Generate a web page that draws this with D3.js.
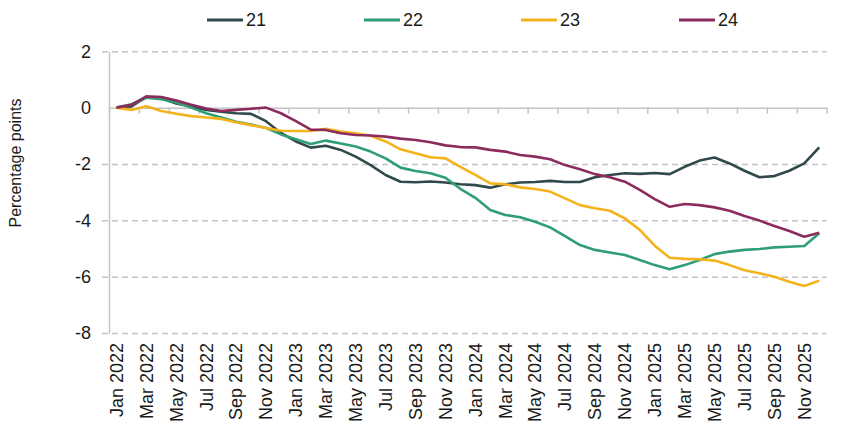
<!DOCTYPE html>
<html>
<head>
<meta charset="utf-8">
<script src="https://cdn.jsdelivr.net/npm/d3@7"></script>
<style>
  body { margin: 0; background: #fff; }
  text { font-family: "Liberation Sans", Arial, sans-serif; fill: #1a1a1a; }
</style>
</head>
<body>
<svg width="848" height="444"></svg>
<script>
// Months, Jan 2022 - Dec 2025
const monthNames = ["Jan", "Feb", "Mar", "Apr", "May", "Jun", "Jul", "Aug", "Sep", "Oct", "Nov", "Dec"];
const years = [2022, 2023, 2024, 2025];
const months = years.flatMap(y => monthNames.map(m => `${m} ${y}`));

const seriesNames = ["21", "22", "23", "24"];
const seriesColors = ["#31484d", "#2f9e74", "#f4b31c", "#8c2c5e"];

const s21 = [0, 0.04, 0.38, 0.33, 0.15, 0.04, -0.08, -0.14, -0.2, -0.22, -0.48, -0.9,
  -1.2, -1.42, -1.35, -1.5, -1.74, -2.04, -2.39, -2.63, -2.65, -2.62, -2.66, -2.72,
  -2.75, -2.84, -2.72, -2.66, -2.64, -2.6, -2.64, -2.64, -2.47, -2.39, -2.33, -2.35,
  -2.32, -2.36, -2.1, -1.88, -1.77, -1.98, -2.24, -2.47, -2.43, -2.24, -1.98, -1.41];
const s22 = [0, 0.12, 0.35, 0.3, 0.18, 0.0, -0.2, -0.35, -0.5, -0.6, -0.72, -0.95,
  -1.12, -1.29, -1.17, -1.27, -1.38, -1.56, -1.8, -2.13, -2.25, -2.33, -2.49, -2.88,
  -3.2, -3.63, -3.81, -3.89, -4.05, -4.25, -4.56, -4.88, -5.05, -5.14, -5.23, -5.41,
  -5.59, -5.74, -5.59, -5.41, -5.2, -5.11, -5.05, -5.02, -4.96, -4.94, -4.91, -4.46];
const s23 = [0, -0.08, 0.05, -0.12, -0.22, -0.3, -0.35, -0.4, -0.52, -0.62, -0.72, -0.82,
  -0.83, -0.83, -0.75, -0.85, -0.91, -1.0, -1.2, -1.48, -1.62, -1.76, -1.8, -2.1,
  -2.39, -2.69, -2.72, -2.83, -2.89, -2.98, -3.22, -3.46, -3.57, -3.66, -3.93, -4.34,
  -4.9, -5.33, -5.37, -5.38, -5.43, -5.59, -5.77, -5.88, -6.0, -6.18, -6.33, -6.14];
const s24 = [0, 0.1, 0.4, 0.38, 0.25, 0.1, -0.03, -0.12, -0.08, -0.04, 0.0, -0.2,
  -0.48, -0.78, -0.79, -0.91, -0.97, -0.99, -1.03, -1.1, -1.15, -1.23, -1.34, -1.4,
  -1.41, -1.5, -1.56, -1.68, -1.74, -1.83, -2.04, -2.19, -2.36, -2.47, -2.63, -2.92,
  -3.25, -3.52, -3.42, -3.46, -3.54, -3.66, -3.85, -4.01, -4.2, -4.38, -4.58, -4.44];

const yTicks = [2, 0, -2, -4, -6, -8];

const series = [s21, s22, s23, s24];

const svg = d3.select("svg");
const left = 109, right = 826.7;

const x = d3.scaleBand().domain(months).range([left, right]);
const xc = d => x(d) + x.bandwidth() / 2;
const xBound = d3.scaleLinear().domain([0, months.length]).range([left, right]);
const y = d3.scaleLinear().domain([-8, 2]).range([333, 51.3]);

// dashed gridlines
svg.append("g")
  .attr("transform", `translate(${left - 7},0)`)
  .call(d3.axisLeft(y).tickValues(yTicks.filter(d => d !== 0)).tickSize(-(right - left + 7)).tickFormat(""))
  .call(g => g.select(".domain").remove())
  .call(g => g.selectAll("line").attr("stroke", "#c4c4c4").attr("stroke-width", 1.5).attr("stroke-dasharray", "6,4"));

// y axis labels and line
svg.append("g")
  .attr("transform", `translate(${left},0)`)
  .call(d3.axisLeft(y).tickValues(yTicks).tickSize(0).tickPadding(18).tickFormat(d => String(d)))
  .call(g => g.select(".domain").attr("stroke", "#c4c4c4").attr("stroke-width", 1.5))
  .call(g => g.selectAll("text").style("font-size", "18px").style("font-family", "Liberation Sans, Arial, sans-serif").attr("fill", "#1a1a1a"));

// zero line with month ticks
svg.append("g")
  .attr("transform", `translate(0,${y(0)})`)
  .call(d3.axisBottom(xBound).tickValues(d3.range(0, months.length + 1, 2)).tickSizeInner(6).tickSizeOuter(0).tickFormat(""))
  .call(g => g.select(".domain").attr("stroke", "#c4c4c4").attr("stroke-width", 1.5))
  .call(g => g.selectAll("line").attr("stroke", "#c4c4c4").attr("stroke-width", 1.5));

// month labels under the chart
svg.append("g")
  .attr("transform", `translate(0,${y(-8)})`)
  .call(d3.axisBottom(x).tickValues(months.filter((d, i) => i % 2 === 0)).tickSize(0).tickPadding(0))
  .call(g => g.select(".domain").remove())
  .call(g => g.selectAll("text")
    .style("font-size", "18px")
    .style("font-family", "Liberation Sans, Arial, sans-serif")
    .attr("fill", "#1a1a1a")
    .attr("text-anchor", "end")
    .attr("transform", "rotate(-90)")
    .attr("x", -10)
    .attr("y", 0)
    .attr("dy", "0.35em"));

// y axis title
svg.append("text")
  .attr("transform", "translate(15,163) rotate(-90)")
  .attr("text-anchor", "middle")
  .attr("dy", "0.35em")
  .style("font-size", "16px")
  .text("Percentage points");

// lines
const line = d3.line()
  .x((d, i) => xc(months[i]))
  .y(d => y(d));

svg.selectAll(".series")
  .data(series)
  .enter()
  .append("path")
  .attr("class", "series")
  .attr("fill", "none")
  .attr("stroke", (d, i) => seriesColors[i])
  .attr("stroke-width", 2.6)
  .attr("stroke-linejoin", "round")
  .attr("d", line);

// legend
const legendX = [207, 364, 521, 679];
const legend = svg.selectAll(".legend")
  .data(seriesNames)
  .enter()
  .append("g")
  .attr("class", "legend")
  .attr("transform", (d, i) => `translate(${legendX[i]},20)`);

legend.append("line")
  .attr("x1", 0).attr("x2", 36)
  .attr("stroke", (d, i) => seriesColors[i])
  .attr("stroke-width", 3);

legend.append("text")
  .attr("x", 39)
  .attr("dy", "0.35em")
  .style("font-size", "18px")
  .text(d => d);
</script>
</body>
</html>
